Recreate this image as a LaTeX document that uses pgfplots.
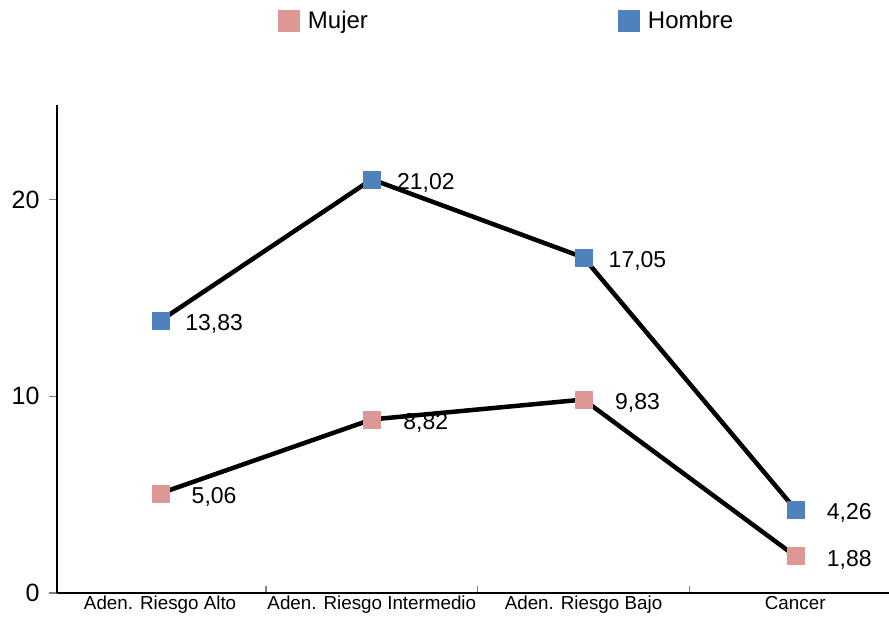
\documentclass[border=0pt]{standalone}
\usepackage{fontspec}
\setmainfont{Liberation Sans}
\usepackage{pgfplots}
\pgfplotsset{compat=1.18}
\definecolor{mujerc}{RGB}{221,152,150}
\definecolor{hombrec}{RGB}{79,129,189}

\begin{document}
\begin{tikzpicture}
\useasboundingbox (-57pt,-24pt) rectangle (832pt,593pt);
\begin{axis}[
  scale only axis,
  width=832pt, height=488pt,
  xmin=-0.487, xmax=3.443,
  ymin=0, ymax=24.8,
  axis x line*=bottom, axis y line*=left,
  axis line style={line width=1.6pt, -},
  xtick={0,1,2,3},
  xticklabels={Aden. Riesgo Alto, Aden. Riesgo Intermedio, Aden. Riesgo Bajo, Cancer},
  major x tick style={draw=none},
  minor xtick={0.5,1.5,2.5},
  minor x tick style={line width=1.4pt},
  minor tick length=7pt,
  xticklabel style={font=\fontsize{18.8}{20}\selectfont, inner sep=0pt, yshift=-3pt, anchor=north},
  ytick={0,10,20},
  ytick align=outside,
  major y tick style={line width=1.4pt},
  major tick length=8pt,
  yticklabel style={font=\fontsize{25}{27}\selectfont, xshift=-6pt},
  /pgf/number format/assume math mode=true,
  legend image code/.code={\fill[#1, draw=none] (0pt,-11pt) rectangle (22pt,11pt);},
  legend columns=2,
  legend style={draw=none, fill=none, inner sep=0pt, outer sep=0pt,
    nodes={inner sep=0pt, font=\fontsize{24}{26}\selectfont},
    at={(axis description cs:0.2656,1.172)}, anchor=west,
    /tikz/every odd column/.append style={column sep=8pt},
    /tikz/every even column/.append style={column sep=250pt}},
  clip=false,
  nodes near coords,
  point meta=explicit symbolic,
  every node near coord/.append style={font=\fontsize{23}{25}\selectfont, black,
    anchor=center, xshift=54pt, yshift=-3.5pt},
]
\addlegendimage{fill=mujerc}
\addlegendentry{Mujer}
\addlegendimage{fill=hombrec}
\addlegendentry{Hombre}

% Hombre
\addplot[black, line width=4.5pt, mark=square*, mark size=8.5pt,
  mark options={fill=hombrec, draw=hombrec, line width=0.1pt}, forget plot]
  coordinates {(0,13.83)[13,83] (1,21.02)[21,02] (2,17.05)[17,05] (3,4.26)[4,26]};
% Mujer
\addplot[black, line width=4.5pt, mark=square*, mark size=8.5pt,
  mark options={fill=mujerc, draw=mujerc, line width=0.1pt}, forget plot]
  coordinates {(0,5.06)[5,06] (1,8.82)[8,82] (2,9.83)[9,83] (3,1.88)[1,88]};
\end{axis}
\end{tikzpicture}
\end{document}
